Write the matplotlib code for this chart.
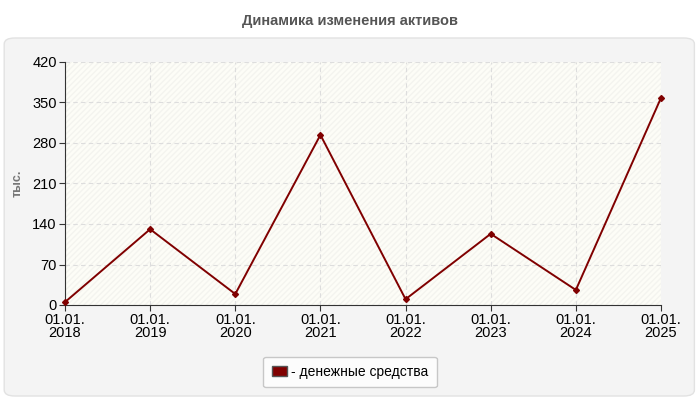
import matplotlib.pyplot as plt
from matplotlib.patches import FancyBboxPatch

dates = ['01.01.\n2018', '01.01.\n2019', '01.01.\n2020', '01.01.\n2021',
         '01.01.\n2022', '01.01.\n2023', '01.01.\n2024', '01.01.\n2025']
cash = [5, 131, 19, 294, 10, 123, 26, 358]
yticks = [0, 70, 140, 210, 280, 350, 420]

plt.rcParams['font.family'] = ['Liberation Sans', 'DejaVu Sans']

fig = plt.figure(figsize=(7, 4), dpi=100)
fig.patch.set_facecolor('white')

# grey panel behind the chart
panel = FancyBboxPatch((0.006, 0.01), 0.986, 0.895, boxstyle='round,pad=0,rounding_size=0.015',
                       transform=fig.transFigure, facecolor='#f4f4f4', edgecolor='#e2e2e2',
                       linewidth=1, zorder=-10)
fig.patches.append(panel)

fig.text(0.5, 0.948, 'Динамика изменения активов', ha='center', va='center',
         fontsize=10.5, fontweight='bold', color='#555555')

ax = fig.add_axes([65 / 700, 1 - 305 / 400, (661 - 65) / 700, (305 - 62) / 400])
ax.set_zorder(1)
ax.set_facecolor('#fdfdf7')
ax.fill_between([0, 7], 0, 420, facecolor='none', edgecolor='#f4f4ef', hatch='//////',
                linewidth=0, zorder=0)

x = list(range(len(cash)))
ax.plot(x, cash, color='#800000', linewidth=1.4, marker='D', markersize=3,
        label='- денежные средства', zorder=3, clip_on=False)

ax.set_xlim(0, 7)
ax.set_ylim(0, 420)
ax.set_yticks(yticks)
ax.set_xticks(x)
ax.set_xticklabels(dates, fontsize=10.5, linespacing=0.9)
ax.tick_params(axis='y', labelsize=10.5, length=4, pad=2, color='#333333')
ax.tick_params(axis='x', length=4, pad=2, color='#333333')
ax.grid(True, color='#dddddd', linestyle=(0, (4, 3)), linewidth=0.8)
ax.set_axisbelow(True)
for side in ['top', 'right']:
    ax.spines[side].set_visible(False)
for side in ['left', 'bottom']:
    ax.spines[side].set_color('#333333')

ax.set_ylabel('тыс.', fontsize=9, fontweight='bold', color='#777777', labelpad=6)

handle = plt.Rectangle((0, 0), 1, 1, facecolor='#800000', edgecolor='#555555')
leg = fig.legend([handle], ['- денежные средства'], loc='center',
                 bbox_to_anchor=(0.5, 0.07), fontsize=10, frameon=True,
                 fancybox=True, handlelength=1.1, handleheight=0.7, handletextpad=0.3,
                 borderpad=0.6)
leg.get_frame().set_edgecolor('#bbbbbb')
leg.get_frame().set_facecolor('white')

fig.savefig('out.png', dpi=100)
